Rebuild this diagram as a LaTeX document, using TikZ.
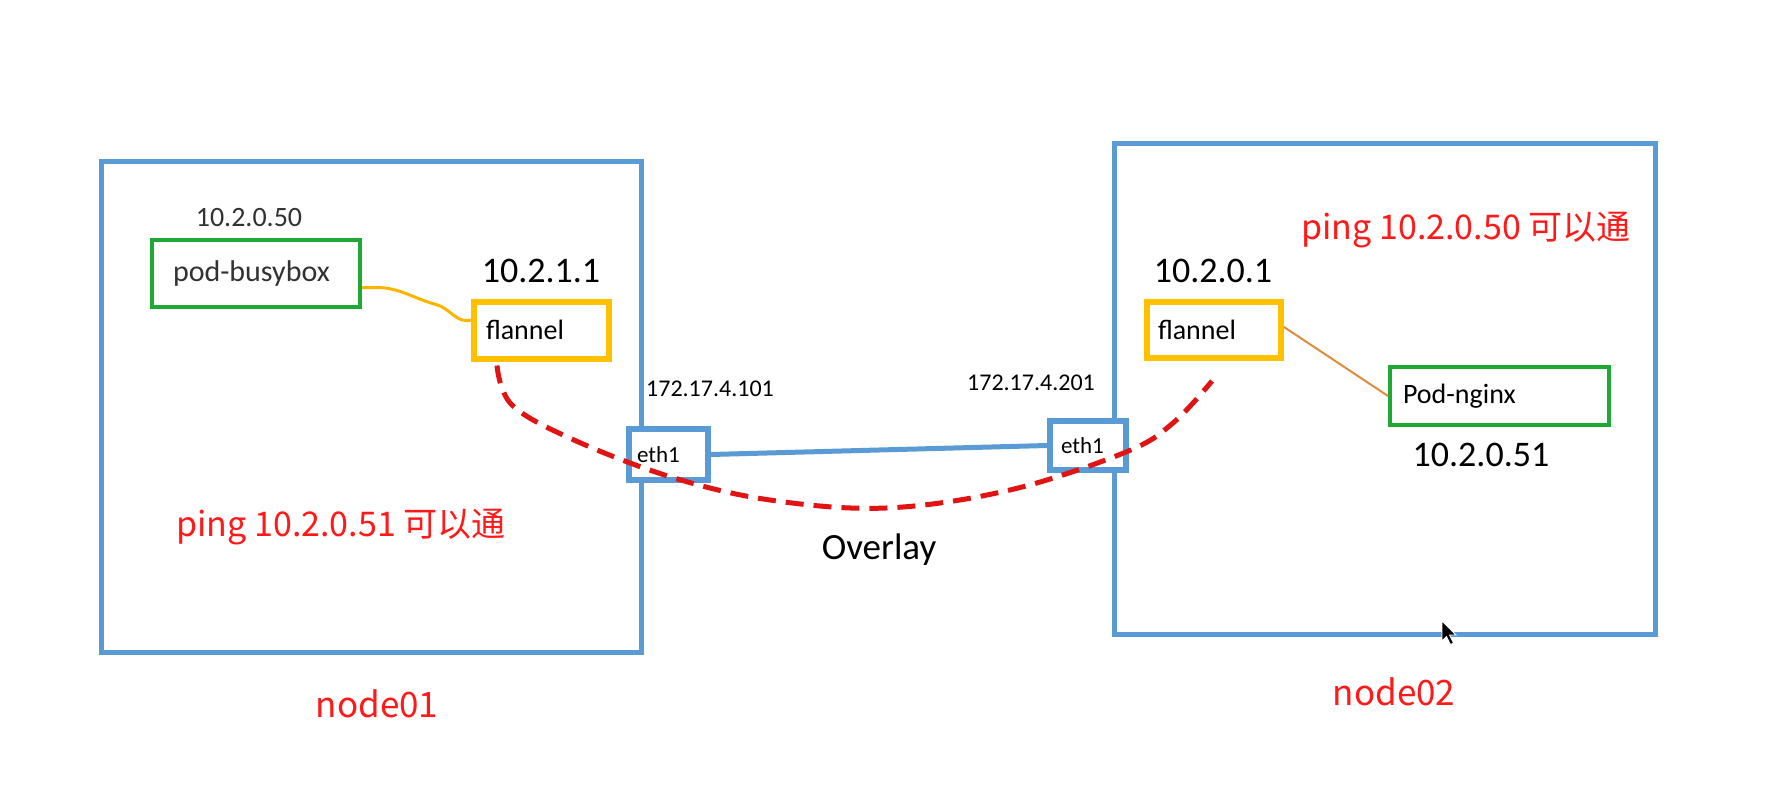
\documentclass[tikz,border=0pt]{standalone}
\usepackage{fontspec}
\setmainfont{Carlito}
\newfontfamily\cjk{Noto Sans CJK SC}
\definecolor{hostblue}{RGB}{91,155,213}
\definecolor{podgreen}{RGB}{30,170,50}
\definecolor{flyellow}{RGB}{255,192,0}
\definecolor{pingred}{RGB}{255,25,25}
\definecolor{tunred}{RGB}{225,20,20}
\definecolor{wireorange}{RGB}{255,180,0}
\definecolor{wirebrown}{RGB}{220,140,60}
\definecolor{txtgray}{RGB}{50,50,50}
\newcommand\pxsize[1]{\fontsize{#1}{#1}\selectfont}
\tikzset{
  hostbox/.style={draw=hostblue, line width=5pt, rectangle, inner sep=0pt},
  ethbox/.style={draw=hostblue, fill=white, line width=5.5pt, rectangle, inner ysep=0pt, align=left, font=\pxsize{23}},
  podbox/.style={draw=podgreen, fill=white, line width=4pt, rectangle, inner ysep=0pt, align=left, font=\pxsize{30}, text=txtgray},
  flbox/.style={draw=flyellow, fill=white, line width=6pt, rectangle, inner ysep=0pt, align=left, font=\pxsize{28}},
  iplabel/.style={inner sep=0pt, font=\pxsize{36}},
  smallip/.style={inner sep=0pt, font=\pxsize{24}},
  redlabel/.style={inner sep=0pt, text=pingred, font=\cjk\pxsize{34}},
  tunnel/.style={draw=tunred, line width=5pt, dash pattern=on 18pt off 10pt},
  wire/.style={draw=hostblue, line width=5pt},
}
\begin{document}
\begin{tikzpicture}[x=1pt,y=-1pt]
\useasboundingbox[fill=white] (0,0) rectangle (1765,795);

% hosts
\node[hostbox, minimum width=540pt, minimum height=491pt] (hostL) at (371,406.5) {};
\node[hostbox, minimum width=541pt, minimum height=491pt] (hostR) at (1384.5,388.5) {};

% eth1 boxes
\node[ethbox, minimum width=79pt, minimum height=51pt, inner xsep=8pt, text width=63pt] (ethL) at (668.5,454.5) {eth1};
\node[ethbox, minimum width=76pt, minimum height=49pt, inner xsep=11pt, text width=54pt] (ethR) at (1088,445.5) {eth1};
\draw[wire] (ethL.east) -- (ethR.west);

% pods and flannel
\node[podbox, minimum width=208pt, minimum height=67pt, inner xsep=21pt, text width=166pt] (podB) at (256,273.5) {pod-busybox};
\node[flbox, minimum width=135pt, minimum height=57pt, inner xsep=12pt, text width=111pt] (flL) at (541.5,330) {flannel};
\node[flbox, minimum width=134pt, minimum height=56pt, inner xsep=11pt, text width=112pt] (flR) at (1214,330) {flannel};
\node[podbox, minimum width=219pt, minimum height=58pt, inner xsep=13pt, text width=193pt, font=\pxsize{28}, text=black] (podN) at (1499.5,396) {Pod-nginx};

% veth wires
\draw[wireorange, line width=3pt, line join=round]
  ([yshift=-14pt]podB.east) -- ++(14,0) to[out=0,in=165] ++(60,17) to[out=-15,in=195] ([yshift=10pt]flL.west);
\draw[wirebrown, line width=2pt] ([yshift=3pt]flR.east) -- (podN.west);

% overlay tunnel
\coordinate (tunS) at ([xshift=-44.5pt,yshift=-4pt]flL.south);
\coordinate (tunE) at ([xshift=-2pt,yshift=-20pt]flR.south);
\draw[tunnel] plot[smooth, tension=0.6] coordinates {(tunS) (512,405) (574,440) (671,477) (770,500) (886,508) (1010,490) (1126,452) (1173,423) (tunE)};

% labels
\node[inner sep=0pt, font=\pxsize{28}, text=txtgray] (ipB) at (249,218) {10.2.0.50};
\node[iplabel] (ipFL) at (541,271) {10.2.1.1};
\node[iplabel] (ipFR) at (1213,271) {10.2.0.1};
\node[iplabel] (ipN) at (1481,455) {10.2.0.51};
\node[smallip] (ipEL) at (710,389) {172.17.4.101};
\node[smallip] (ipER) at (1031,383) {172.17.4.201};
\node[inner sep=0pt, font=\pxsize{37}] (ovl) at (879,550) {Overlay};
\node[redlabel] (pingL) at (341,527) {ping 10.2.0.51 可以通};
\node[redlabel] (pingR) at (1466,230) {ping 10.2.0.50 可以通};
\node[redlabel, font=\cjk\pxsize{35}] (n1) at (377,704) {node01};
\node[redlabel, font=\cjk\pxsize{35}] (n2) at (1394,692) {node02};

% mouse cursor
\fill[black, draw=white, line width=0.8pt] (1442,621) -- ++(0,20) -- ++(4.5,-4.5) -- ++(4,8) -- ++(3,-1.5) -- ++(-4,-8) -- ++(6.5,0) -- cycle;
\end{tikzpicture}
\end{document}
